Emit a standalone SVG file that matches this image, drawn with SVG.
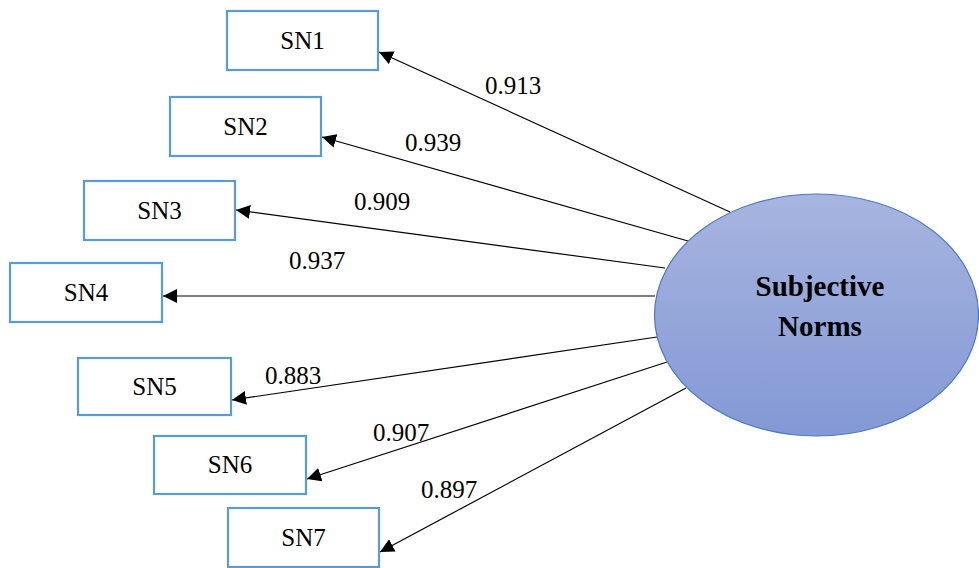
<svg xmlns="http://www.w3.org/2000/svg" width="979" height="568" viewBox="0 0 979 568">
  <style>
    .box { fill: #ffffff; stroke: #5b9bd5; stroke-width: 2.2; }
    .conn { stroke: #000; stroke-width: 1.2; fill: none; marker-end: url(#arrow); }
  </style>
  <defs>
    <marker id="arrow" viewBox="0 0 10 10" refX="10" refY="5" markerWidth="14" markerHeight="14" markerUnits="userSpaceOnUse" orient="auto">
      <path d="M0,0 L10,5 L0,10 z" fill="#000"/>
    </marker>
    <linearGradient id="latentFill" x1="0" y1="0" x2="0" y2="1">
      <stop offset="0" stop-color="#a7b5df"/>
      <stop offset="1" stop-color="#8398d5"/>
    </linearGradient>
  </defs>
  <rect width="979" height="568" fill="#ffffff"/>

  <!-- loading paths from the latent variable to each indicator -->
  <g id="connectors">
    <line class="conn" x1="730" y1="212" x2="379" y2="52"/>
    <line class="conn" x1="688" y1="241" x2="322" y2="137"/>
    <line class="conn" x1="665" y1="268" x2="236" y2="210"/>
    <line class="conn" x1="655" y1="296" x2="163" y2="296"/>
    <line class="conn" x1="657" y1="337" x2="232" y2="400"/>
    <line class="conn" x1="667" y1="362" x2="307" y2="479"/>
    <line class="conn" x1="686" y1="388" x2="380" y2="552"/>
  </g>

  <g id="loadings" font-family="'Liberation Serif', 'Times New Roman', serif" font-size="25" fill="#000">
    <text x="485" y="94">0.913</text>
    <text x="405" y="151">0.939</text>
    <text x="354" y="210">0.909</text>
    <text x="289" y="269">0.937</text>
    <text x="265" y="384">0.883</text>
    <text x="373" y="441">0.907</text>
    <text x="421" y="498">0.897</text>
  </g>

  <g font-family="'Liberation Serif', 'Times New Roman', serif" font-size="25" fill="#000" text-anchor="middle">
    <g id="SN1"><rect class="box" x="227" y="11" width="151" height="59"/><text x="302.5" y="49">SN1</text></g>
    <g id="SN2"><rect class="box" x="170" y="97" width="151" height="59"/><text x="245.5" y="135">SN2</text></g>
    <g id="SN3"><rect class="box" x="84" y="181" width="151" height="59"/><text x="159.5" y="219">SN3</text></g>
    <g id="SN4"><rect class="box" x="10" y="263" width="152" height="59"/><text x="86" y="301">SN4</text></g>
    <g id="SN5"><rect class="box" x="78" y="358" width="153" height="57"/><text x="154.5" y="395">SN5</text></g>
    <g id="SN6"><rect class="box" x="154" y="436" width="152" height="58"/><text x="230" y="473">SN6</text></g>
    <g id="SN7"><rect class="box" x="228" y="508" width="151" height="59"/><text x="303.5" y="546">SN7</text></g>
  </g>

  <g id="SubjectiveNorms">
    <ellipse cx="816.5" cy="315" rx="162" ry="121" fill="url(#latentFill)" stroke="#4a78c6" stroke-width="1.2"/>
    <g font-family="'Liberation Serif', 'Times New Roman', serif" font-size="29" font-weight="bold" fill="#000" text-anchor="middle">
      <text x="820" y="296">Subjective</text>
      <text x="820" y="336">Norms</text>
    </g>
  </g>
</svg>
